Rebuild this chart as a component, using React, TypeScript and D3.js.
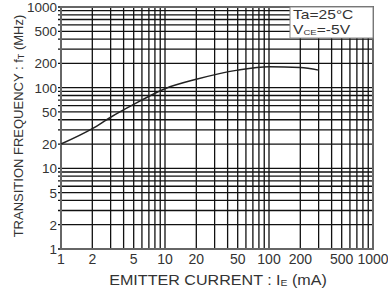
import { useEffect, useRef } from "react";
import * as d3 from "d3";

// emitter current (mA) vs transition frequency (MHz)
const currentMA = [1, 2, 3, 5, 10, 20, 50, 100, 200, 300];
const freqMHz = [20, 31, 43, 62, 97, 127, 165, 182, 178, 165];

const xTickLabels = [1, 2, 5, 10, 20, 50, 100, 200, 500, 1000];
const yTickLabels = [1, 2, 5, 10, 20, 50, 100, 200, 500, 1000];

const W = 388;
const H = 292;
const FONT = "'Liberation Sans', Arial, sans-serif";

export default function App() {
  const svgRef = useRef<SVGSVGElement>(null);

  useEffect(() => {
    if (!svgRef.current) return;
    const svg = d3.select(svgRef.current);
    svg.selectAll("*").remove();

    const margin = { top: 7, right: 15, bottom: 43, left: 61 };
    const innerWidth = W - margin.left - margin.right;
    const innerHeight = H - margin.top - margin.bottom;

    const g = svg
      .append("g")
      .attr("transform", `translate(${margin.left},${margin.top})`);

    const x = d3.scaleLog().domain([1, 1000]).range([0, innerWidth]);
    const y = d3.scaleLog().domain([1, 1000]).range([innerHeight, 0]);

    // grid (every integer multiple of each decade)
    const grid = g.append("g").attr("stroke", "#111").attr("stroke-width", 1.3);
    x.ticks().forEach((t) => {
      grid
        .append("line")
        .attr("x1", x(t))
        .attr("x2", x(t))
        .attr("y1", 0)
        .attr("y2", innerHeight);
    });
    y.ticks().forEach((t) => {
      grid
        .append("line")
        .attr("x1", -3)
        .attr("x2", innerWidth)
        .attr("y1", y(t))
        .attr("y2", y(t));
    });

    // frame
    g.append("rect")
      .attr("width", innerWidth)
      .attr("height", innerHeight)
      .attr("fill", "none")
      .attr("stroke", "#666")
      .attr("stroke-width", 2);

    // tick labels
    g.selectAll(".ylab")
      .data(yTickLabels)
      .join("text")
      .attr("x", -4)
      .attr("y", (d) => y(d) + 5)
      .attr("text-anchor", "end")
      .attr("font-family", FONT)
      .attr("font-size", 13.5)
      .attr("fill", "#333")
      .text((d) => d);

    g.selectAll(".xlab")
      .data(xTickLabels)
      .join("text")
      .attr("x", (d) => x(d))
      .attr("y", innerHeight + 15)
      .attr("text-anchor", "middle")
      .attr("font-family", FONT)
      .attr("font-size", 14)
      .attr("fill", "#333")
      .text((d) => d);

    // curve
    const line = d3
      .line<number>()
      .x((_, i) => x(currentMA[i]))
      .y((d) => y(d))
      .curve(d3.curveMonotoneX);

    g.append("path")
      .datum(freqMHz)
      .attr("fill", "none")
      .attr("stroke", "#222")
      .attr("stroke-width", 1.5)
      .attr("d", line);

    // condition box
    const box = g.append("g").attr("transform", `translate(${innerWidth - 83},0)`);
    box
      .append("rect")
      .attr("width", 83)
      .attr("height", 31)
      .attr("fill", "#fff")
      .attr("stroke", "#888")
      .attr("stroke-width", 1);
    box
      .append("text")
      .attr("transform", "translate(3,12) scale(1.2,1)")
      .attr("font-family", FONT)
      .attr("font-size", 13)
      .attr("fill", "#333")
      .text("Ta=25°C");
    const t2 = box
      .append("text")
      .attr("transform", "translate(3,27) scale(1.2,1)")
      .attr("font-family", FONT)
      .attr("font-size", 13)
      .attr("fill", "#333");
    t2.append("tspan").text("V");
    t2.append("tspan").attr("font-size", 8).attr("dy", 1).text("CE");
    t2.append("tspan").attr("dy", -1).text("=-5V");

    // axis titles
    const xt = svg
      .append("text")
      .attr("transform", "translate(218,285) scale(1.15,1)")
      .attr("text-anchor", "middle")
      .attr("font-family", FONT)
      .attr("font-size", 14)
      .attr("fill", "#333");
    xt.append("tspan").text("EMITTER  CURRENT : I");
    xt.append("tspan").attr("font-size", 9).attr("dy", 1).text("E");
    xt.append("tspan").attr("dy", -1).text(" (mA)");

    const yt = svg
      .append("text")
      .attr("transform", `translate(23,126) rotate(-90)`)
      .attr("text-anchor", "middle")
      .attr("font-family", FONT)
      .attr("font-size", 13)
      .attr("fill", "#333");
    yt.append("tspan").text("TRANSITION  FREQUENCY : f");
    yt.append("tspan").attr("font-size", 9).attr("dy", 1).text("T");
    yt.append("tspan").attr("dy", -1).text(" (MHz)");
  }, []);

  return (
    <svg
      ref={svgRef}
      width={W}
      height={H}
      viewBox={`0 0 ${W} ${H}`}
      style={{ position: "absolute", left: 0, top: 0, background: "#fff" }}
    />
  );
}
